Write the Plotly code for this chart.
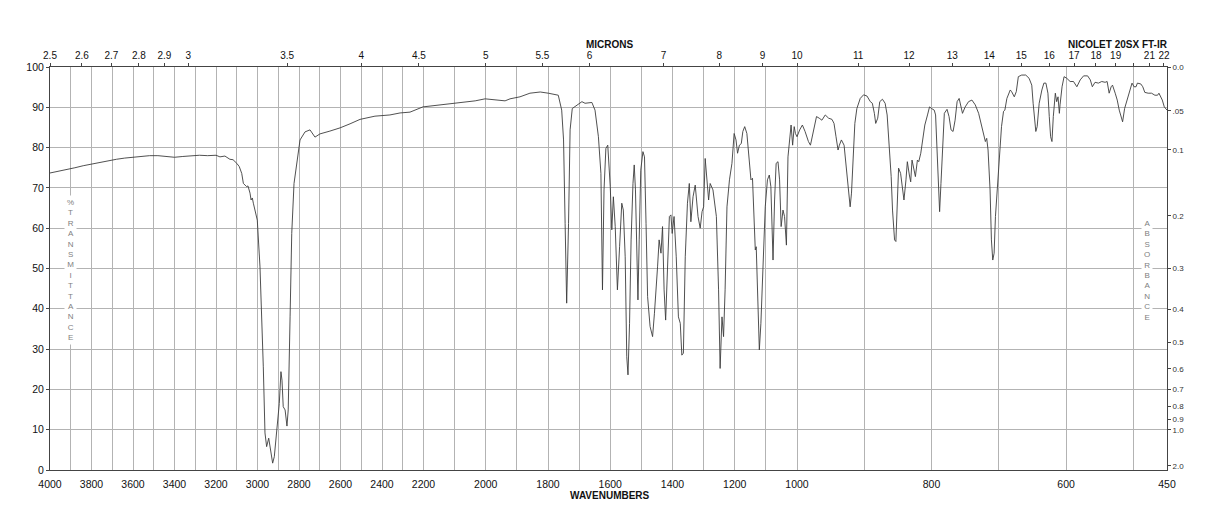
import numpy as np
import plotly.graph_objects as go

# ---------------- data ----------------
WAVENUMBER = [
    4000, 3960, 3920, 3880, 3840, 3800, 3760, 3720, 3680, 3640, 3600, 3560, 3520, 3480, 3440, 3400,
    3360, 3320, 3280, 3240, 3200, 3181, 3157, 3133, 3118, 3100, 3088, 3076, 3068, 3060, 3052, 3046,
    3036, 3031, 3025, 3020, 3012, 3001, 2988, 2980, 2972, 2964, 2956, 2946, 2936, 2927, 2919, 2907,
    2895, 2887, 2882, 2876, 2867, 2858, 2852, 2843, 2835, 2824, 2803, 2795, 2771, 2747, 2723, 2699,
    2651, 2602, 2554, 2506, 2434, 2362, 2313, 2265, 2203, 2147, 2083, 2034, 2002, 1970, 1938, 1922,
    1890, 1858, 1825, 1799, 1767, 1756, 1750, 1745, 1740, 1734, 1729, 1722, 1707, 1691, 1681, 1659,
    1649, 1638, 1630, 1625, 1620, 1614, 1608, 1600, 1595, 1590, 1584, 1577, 1570, 1563, 1558, 1552,
    1547, 1543, 1538, 1533, 1527, 1523, 1519, 1514, 1511, 1507, 1502, 1495, 1490, 1485, 1480, 1472,
    1464, 1458, 1452, 1448, 1443, 1437, 1432, 1427, 1422, 1416, 1410, 1405, 1401, 1395, 1388, 1381,
    1375, 1370, 1365, 1359, 1352, 1346, 1341, 1334, 1327, 1318, 1311, 1305, 1300, 1295, 1289, 1284,
    1279, 1270, 1259, 1252, 1247, 1241, 1236, 1231, 1225, 1217, 1209, 1202, 1196, 1191, 1185, 1179,
    1174, 1168, 1161, 1153, 1148, 1143, 1136, 1134, 1131, 1127, 1121, 1116, 1109, 1102, 1095, 1089,
    1084, 1077, 1072, 1067, 1061, 1056, 1051, 1045, 1040, 1034, 1029, 1024, 1019, 1014, 1009, 1005,
    1000, 996, 992, 988, 983, 980, 976, 971, 967, 963, 958, 953, 948, 945, 942, 939,
    937, 934, 930, 927, 924, 921, 919, 916, 914, 911, 906, 901, 896, 891, 888, 885,
    883, 880, 877, 873, 869, 866, 863, 860, 858, 855, 853, 851, 849, 846, 843, 841,
    838, 836, 833, 831, 829, 826, 824, 821, 819, 816, 813, 810, 806, 803, 800, 796,
    794, 792, 790, 788, 786, 783, 781, 777, 774, 771, 768, 765, 762, 759, 757, 754,
    750, 745, 740, 735, 730, 725, 720, 718, 716, 713, 711, 709, 707, 705, 702, 698,
    696, 693, 691, 688, 683, 681, 677, 674, 671, 666, 660, 655, 651, 649, 646, 645,
    643, 640, 636, 633, 630, 627, 625, 623, 621, 619, 616, 614, 612, 610, 609, 606,
    603, 599, 594, 589, 584, 579, 574, 568, 564, 561, 557, 552, 547, 542, 539, 536,
    533, 531, 527, 524, 521, 518, 516, 513, 510, 506, 502, 499, 496, 494, 489, 486,
    483, 478, 473, 468, 464, 462, 459, 457, 454, 450,
]
TRANSMITTANCE = [
    73.7, 74.1, 74.6, 75.0, 75.5, 75.9, 76.4, 76.8, 77.1, 77.4, 77.6, 77.9, 78.0, 78.0, 77.8, 77.6,
    77.8, 78.0, 78.1, 78.0, 78.1, 77.7, 77.9, 77.1, 77.0, 76.1, 75.3, 73.6, 71.1, 70.7, 70.3, 70.5,
    68.7, 67.0, 67.5, 66.2, 64.5, 62.0, 50.4, 39.7, 25.6, 9.2, 5.8, 7.9, 4.5, 1.7, 3.3, 9.9,
    16.5, 24.4, 22.3, 15.7, 14.9, 10.9, 14.9, 38.0, 58.7, 71.1, 79.4, 81.9, 83.9, 84.4, 82.6, 83.4,
    84.1, 84.9, 85.9, 87.0, 87.8, 88.1, 88.6, 88.8, 90.1, 90.6, 91.3, 91.6, 92.1, 91.8, 91.6, 92.1,
    92.6, 93.5, 93.8, 93.5, 93.0, 89.3, 81.9, 61.2, 41.4, 61.2, 84.4, 89.7, 90.6, 91.4, 91.0, 91.2,
    89.3, 82.7, 73.6, 44.7, 69.5, 79.8, 80.6, 70.3, 59.6, 67.8, 60.4, 44.7, 55.4, 66.2, 64.5, 52.9,
    28.1, 23.6, 36.4, 57.1, 71.1, 75.7, 69.5, 48.8, 42.2, 57.1, 74.4, 79.0, 77.7, 61.2, 43.0, 35.6,
    33.1, 38.9, 48.0, 50.4, 57.1, 53.8, 60.4, 44.7, 37.2, 49.6, 62.9, 63.3, 58.7, 62.9, 52.9, 38.0,
    36.4, 28.5, 29.0, 52.9, 66.2, 71.1, 61.6, 67.8, 70.7, 62.9, 60.0, 64.1, 65.3, 77.3, 72.0, 67.0,
    71.1, 69.5, 62.9, 44.7, 25.2, 38.0, 33.1, 44.7, 65.3, 72.0, 76.1, 83.5, 81.9, 78.6, 80.6, 81.0,
    84.0, 85.2, 83.5, 76.9, 72.0, 72.4, 59.6, 54.6, 55.4, 43.0, 29.8, 36.4, 52.9, 65.3, 72.0, 73.2,
    70.3, 52.1, 67.0, 76.1, 76.5, 72.0, 60.4, 64.5, 62.9, 55.8, 77.7, 82.3, 85.6, 80.6, 85.2, 83.5,
    82.7, 84.4, 85.6, 84.0, 81.5, 80.6, 84.0, 87.7, 87.3, 86.8, 88.1, 87.3, 87.0, 86.0, 82.7, 79.4,
    80.6, 81.9, 80.6, 75.3, 68.7, 65.3, 68.7, 78.6, 86.0, 89.7, 92.2, 93.1, 92.8, 91.4, 91.0, 88.5,
    86.0, 87.3, 91.4, 92.0, 91.0, 88.1, 80.2, 72.8, 64.5, 57.1, 56.7, 66.2, 74.9, 73.6, 70.3, 67.0,
    72.0, 76.5, 73.2, 71.5, 76.9, 74.4, 72.8, 76.9, 76.5, 78.6, 81.9, 85.6, 88.1, 90.1, 89.7, 89.3,
    88.1, 80.2, 70.3, 64.1, 71.1, 82.7, 88.5, 89.5, 87.7, 84.4, 84.0, 86.8, 91.4, 92.2, 90.6, 88.5,
    90.1, 91.4, 91.8, 90.6, 88.5, 85.2, 81.5, 82.3, 79.4, 69.5, 57.1, 52.1, 53.8, 62.9, 70.3, 78.0,
    85.2, 89.0, 89.3, 92.2, 94.3, 93.9, 92.6, 93.9, 97.6, 98.0, 98.0, 97.2, 95.5, 91.0, 86.8, 84.0,
    85.2, 91.0, 94.3, 96.0, 96.0, 93.5, 87.7, 82.7, 81.5, 87.7, 93.5, 91.4, 92.6, 88.5, 90.6, 95.1,
    97.6, 97.2, 96.4, 96.4, 95.1, 96.8, 97.8, 97.8, 96.8, 95.1, 96.2, 96.0, 96.4, 96.2, 96.4, 93.5,
    95.1, 95.5, 93.5, 91.8, 89.3, 87.7, 86.4, 89.7, 91.4, 93.9, 96.0, 95.1, 95.1, 96.0, 95.8, 95.1,
    93.7, 93.5, 93.5, 93.0, 93.0, 93.5, 92.6, 91.8, 90.1, 89.3,
]

WN_LABELS = [4000, 3800, 3600, 3400, 3200, 3000, 2800, 2600, 2400, 2200, 2000,
             1800, 1600, 1400, 1200, 1000, 800, 600, 450]
WN_GRID = list(range(4000, 499, -100)) + [450]
MICRON_TICKS = [2.5, 2.6, 2.7, 2.8, 2.9, 3, 3.5, 4, 4.5, 5, 5.5, 6, 7, 8, 9, 10,
                11, 12, 13, 14, 15, 16, 17, 18, 19, 20, 21, 22]
MICRON_LABELS = ["2.5", "2.6", "2.7", "2.8", "2.9", "3", "3.5", "4", "4.5", "5", "5.5", "6",
                 "7", "8", "9", "10", "11", "12", "13", "14", "15", "16", "17", "18", "19",
                 "", "21", "22"]
ABS_TICKS = [0.0, 0.05, 0.1, 0.2, 0.3, 0.4, 0.5, 0.6, 0.7, 0.8, 0.9, 1.0, 2.0]
ABS_LABELS = ["0.0", ".05", "0.1", "0.2", "0.3", "0.4", "0.5", "0.6", "0.7", "0.8", "0.9", "1.0", "2.0"]

# ---------------- chart-paper x scale (scale changes at 2200 and 1000 cm-1) ----------------
WN_KNOTS = [4000, 2200, 1000, 450]
POS_KNOTS = [0.0, 373.5, 747.0, 1117.0]


def pos(w):
    w = np.asarray(w, dtype=float)
    return np.interp(-w, [-k for k in WN_KNOTS], POS_KNOTS)


FONT = "Liberation Sans, Arial, Helvetica, sans-serif"
GRID = "#b3b3b3"
AXIS = "#444444"

fig = go.Figure()
fig.add_trace(go.Scatter(
    x=pos(WAVENUMBER), y=TRANSMITTANCE, mode="lines",
    line=dict(color="#3c3c3c", width=0.9), showlegend=False, hoverinfo="skip"))
# anchor trace for the secondary axes
fig.add_trace(go.Scatter(x=[None], y=[None], xaxis="x2", yaxis="y2", showlegend=False))

grid_text = [str(w) if w in WN_LABELS else "" for w in WN_GRID]
xr = [float(pos(4000)), float(pos(450))]

fig.update_layout(
    width=1218, height=528,
    margin=dict(l=50, r=51, t=67, b=58),
    paper_bgcolor="white", plot_bgcolor="white",
    font=dict(family=FONT, size=10, color="#111"),
    xaxis=dict(
        range=xr, tickmode="array", tickvals=pos(WN_GRID), ticktext=grid_text,
        showgrid=True, gridcolor=GRID, gridwidth=1, zeroline=False,
        showline=True, linecolor=AXIS, linewidth=1,
        ticks="outside", ticklen=4, tickcolor="rgba(0,0,0,0)",
        tickfont=dict(size=10.5), fixedrange=True,
    ),
    xaxis2=dict(
        overlaying="x", side="top", anchor="y", range=xr, tickmode="array",
        tickvals=pos([10000.0 / m for m in MICRON_TICKS]), ticktext=MICRON_LABELS,
        showgrid=False, zeroline=False, showline=True, linecolor=AXIS, linewidth=1,
        ticks="outside", ticklen=3, tickcolor=AXIS, tickfont=dict(size=10),
    ),
    yaxis=dict(
        range=[0, 100], tickmode="array", tickvals=list(range(0, 101, 10)),
        showgrid=True, gridcolor=GRID, gridwidth=1, zeroline=False,
        showline=True, linecolor=AXIS, linewidth=1,
        ticks="outside", ticklen=3, tickcolor=AXIS, tickfont=dict(size=10.5),
    ),
    yaxis2=dict(
        overlaying="y", side="right", anchor="x", range=[0, 100], tickmode="array",
        tickvals=[100 * 10 ** (-a) for a in ABS_TICKS], ticktext=ABS_LABELS,
        showgrid=False, zeroline=False, showline=True, linecolor=AXIS, linewidth=1,
        ticks="outside", ticklen=3, tickcolor=AXIS, tickfont=dict(size=8, color="#333"),
    ),
)

letters_t = "<br>".join(list("%TRANSMITTANCE"))
letters_a = "<br>".join(list("ABSORBANCE"))
fig.add_annotation(x=float(pos(3900)), y=49.6, xref="x", yref="y", text=letters_t,
                   xanchor="center", yanchor="middle",
                   showarrow=False, font=dict(size=8, color="#808080"),
                   bgcolor="white", borderpad=2)
fig.add_annotation(x=float(pos(480)), y=49.6, xref="x", yref="y", text=letters_a,
                   xanchor="center", yanchor="middle",
                   showarrow=False, font=dict(size=8, color="#808080"),
                   bgcolor="white", borderpad=2)
fig.add_annotation(x=float(pos(1600)), y=1.0546, xref="x", yref="paper", text="<b>MICRONS</b>",
                   xanchor="center", yanchor="middle",
                   showarrow=False, font=dict(size=10, color="#111"))
fig.add_annotation(x=1.0027, y=1.0546, xref="paper", yref="paper", xanchor="right", yanchor="middle",
                   text="<b>NICOLET 20SX FT-IR</b>", showarrow=False, font=dict(size=10, color="#111"))
fig.add_annotation(x=float(pos(1600)), y=-0.0645, xref="x", yref="paper", text="<b>WAVENUMBERS</b>",
                   xanchor="center", yanchor="middle",
                   showarrow=False, font=dict(size=10, color="#111"))

fig.write_html("out.html")
